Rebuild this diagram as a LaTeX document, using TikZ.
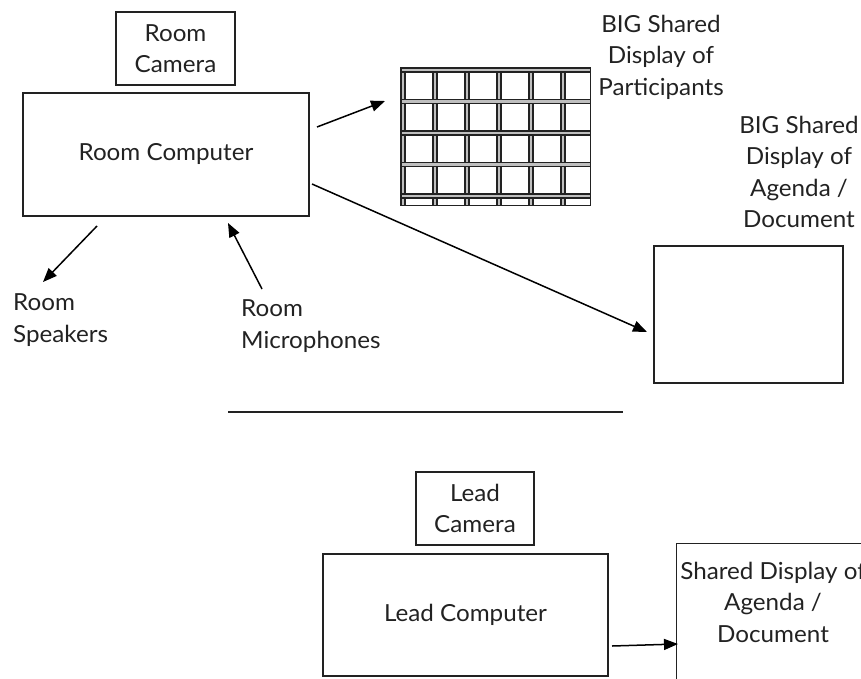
\documentclass[tikz,border=0pt]{standalone}
\usepackage{fontspec}
\setmainfont[FakeStretch=1.03]{Lato}
\usetikzlibrary{arrows.meta}
\definecolor{ink}{HTML}{222222}
\begin{document}
\begin{tikzpicture}[x=1pt,y=-1pt,
  every node/.style={font=\fontsize{23.5pt}{31.5pt}\selectfont, text=ink, inner sep=0pt},
  box/.style={draw=ink, line width=1.4pt, align=center},
  lbl/.style={align=center},
  arr/.style={draw=black, line width=1.5pt, -{Triangle[length=14pt,width=11pt]}},
  sep/.style={draw=ink, line width=1.6pt},
  gridline/.style={draw=ink, line width=1.7pt, double=gray!50, double distance=2.2pt}
]
\useasboundingbox (0,0) rectangle (861,679);

% upper part
\node[box, minimum width=119pt, minimum height=73pt] (cam) at (175.5,48.5) {Room\\Camera};
\node[box, minimum width=286pt, minimum height=123pt] (comp) at (166,154.5) {Room Computer};

\node[minimum width=189pt, minimum height=137pt] (pdisp) at (495.5,136.5) {};
\begin{scope}
  \clip (pdisp.north west) rectangle (pdisp.south east);
  \foreach \gx in {403,435,467,499,531,563}
    \draw[gridline] (\gx,60) -- (\gx,215);
  \foreach \gy in {70,101.5,133,164.5,196}
    \draw[gridline] (390,\gy) -- (600,\gy);
\end{scope}
\draw[draw=ink, line width=1.4pt] (pdisp.north west) rectangle (pdisp.south east);

\node[lbl] (plbl) at (661,57) {BIG Shared\\Display of\\Participants};
\node[lbl] (albl) at (799,172) {BIG Shared\\Display of\\Agenda /\\Document};
\node[box, minimum width=189pt, minimum height=137pt] (adisp) at (748.5,314.5) {};

\node[lbl, align=left, anchor=west] (spk) at (13,320) {Room\\Speakers};
\node[lbl, align=left, anchor=west] (mic) at (241,326) {Room\\Microphones};

\coordinate (a1s) at (317,127);
\coordinate (a1e) at (385,101);
\coordinate (a2s) at (312,184);
\coordinate (a2e) at (647,332);
\coordinate (a3s) at (97,226);
\coordinate (a3e) at (43,282);
\coordinate (a4s) at (262,289);
\coordinate (a4e) at (228,223);
\draw[arr] (a1s) -- (a1e);
\draw[arr] (a2s) -- (a2e);
\draw[arr] (a3s) -- (a3e);
\draw[arr] (a4s) -- (a4e);

% separator
\coordinate (s1) at (228,412);
\coordinate (s2) at (623,412);
\draw[sep] (s1) -- (s2);

% lower part
\node[box, minimum width=118pt, minimum height=73pt] (lcam) at (475,508.5) {Lead\\Camera};
\node[box, minimum width=285pt, minimum height=122pt] (lcomp) at (465.5,615) {Lead Computer};
\node[box, minimum width=260pt, minimum height=200pt, anchor=north west] (sdisp) at (676,543) {};
\node[lbl] (slbl) at (773,602) {Shared Display of\\Agenda /\\Document};

\coordinate (a5s) at (612,646);
\coordinate (a5e) at (678,644);
\draw[arr] (a5s) -- (a5e);
\end{tikzpicture}
\end{document}
